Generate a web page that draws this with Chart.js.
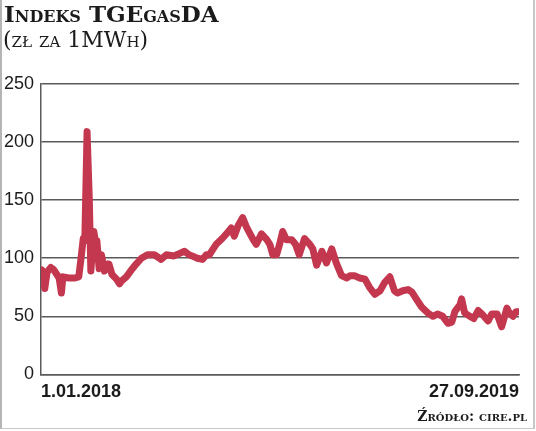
<!DOCTYPE html>
<html>
<head>
<meta charset="utf-8">
<script src="https://cdn.jsdelivr.net/npm/chart.js@4.4.1/dist/chart.umd.min.js"></script>
<style>
  html, body { margin: 0; padding: 0; background: #fff; }
  #wrap { position: relative; width: 536px; height: 431px; overflow: hidden; }
  #frame { position: absolute; left: 0; top: 0; width: 531px; height: 428px;
           border-left: 2px solid #b5b5b5; border-right: 2px solid #c8c8c8; border-bottom: 1px solid #c8c8c8; }
  #tytul { position: absolute; left: 4px; top: 0px; font: bold 23px "DejaVu Serif", serif;
           font-variant: small-caps; color: #1b1b1b; line-height: 28px; white-space: nowrap; }
  #podtytul { position: absolute; left: 3px; top: 26px; font: 22px "DejaVu Serif", serif;
              font-variant: small-caps; color: #1b1b1b; line-height: 28px; white-space: nowrap; }
  #zrodlo { position: absolute; right: 9px; top: 406px; font: bold 14px "DejaVu Serif", serif;
            font-variant: small-caps; color: #1b1b1b; line-height: 20px; white-space: nowrap; }
  canvas { position: absolute; left: 0; top: 0; }
</style>
</head>
<body>
<div id="wrap">
  <canvas id="wykres" width="536" height="431"></canvas>
  <div id="frame"></div>
  <div id="tytul">Indeks TGEgasDA</div>
  <div id="podtytul">(zł za 1MWh)</div>
  <div id="zrodlo">Źródło: cire.pl</div>
</div>
<script>
// Indeks TGEgasDA, zł za 1 MWh, od 1.01.2018 do 27.09.2019
// dni liczone od 1.01.2018
const dni = [0, 1, 4, 5, 8, 13, 17, 21, 24, 27, 29, 37, 45, 50, 53, 56, 58, 61, 64, 66,
  70, 73, 74, 77, 80, 84, 88, 90, 94, 100, 104, 106, 113, 121, 126, 133, 141, 150, 157, 159,
  166, 176, 183, 190, 196, 200, 207, 214, 219, 223, 228, 232, 240, 247, 252, 256, 261, 267, 272, 276,
  281, 285, 292, 299, 303, 307, 312, 316, 320, 325, 332, 337, 342, 349, 356, 360, 365, 372, 378, 385,
  391, 398, 405, 409, 415, 422, 429, 435, 442, 449, 455, 462, 468, 472, 479, 486, 491, 498, 504, 512,
  519, 525, 532, 539, 544, 548, 555, 557, 561, 568, 573, 579, 584, 588, 592, 597, 604, 610, 614, 617,
  621, 625, 629, 633];
const ceny = [78, 90, 88, 74, 88, 92, 90, 86, 83, 70, 84, 83, 83, 84, 100, 117, 115, 209, 150, 89,
  123, 110, 115, 91, 103, 89, 95, 95, 86, 82, 78, 80, 84, 91, 95, 100, 103, 103, 100, 99,
  103, 102, 104, 106, 103, 102, 100, 99, 103, 103, 108, 112, 117, 122, 126, 119, 128, 135, 127, 122,
  116, 112, 121, 116, 112, 103, 103, 112, 123, 116, 116, 112, 103, 117, 112, 108, 94, 106, 96, 108,
  96, 85, 83, 85, 85, 83, 82, 75, 69, 72, 79, 84, 72, 70, 72, 73, 71, 64, 58, 53,
  50, 52, 50, 44, 45, 54, 60, 65, 53, 50, 48, 55, 52, 49, 46, 52, 52, 41, 50, 57,
  52, 50, 54, 54];
const etykietyX = ['1.01.2018', '27.09.2019'];
const tickiY = [0, 50, 100, 150, 200, 250];

const punkty = dni.map((d, i) => ({ x: d, y: ceny[i] }));

const ctx = document.getElementById('wykres').getContext('2d');
new Chart(ctx, {
  type: 'line',
  data: {
    datasets: [{
      label: 'TGEgasDA',
      data: punkty,
      borderColor: '#c4384f',
      borderWidth: 7,
      pointRadius: 0,
      tension: 0,
      borderJoinStyle: 'round',
      borderCapStyle: 'round'
    }]
  },
  options: {
    responsive: false,
    animation: false,
    layout: { padding: { top: 84, right: 17, bottom: 29, left: 0 } },
    plugins: {
      legend: { display: false },
      tooltip: { enabled: false }
    },
    scales: {
      x: {
        type: 'linear',
        min: 0,
        max: dni[dni.length - 1],
        afterBuildTicks: (axis) => {
          axis.ticks = [{ value: dni[0] }, { value: dni[dni.length - 1] }];
        },
        ticks: {
          autoSkip: false,
          maxRotation: 0,
          align: 'inner',
          padding: -1,
          color: '#1b1b1b',
          font: { family: 'Liberation Sans', size: 18, weight: 'bold' },
          callback: (v) => (v === dni[0] ? etykietyX[0] : etykietyX[1])
        },
        grid: { display: false },
        border: { display: true, color: '#5a5a5a', width: 1.5 }
      },
      y: {
        min: 0,
        max: 250,
        afterBuildTicks: (axis) => {
          axis.ticks = tickiY.map(v => ({ value: v }));
        },
        afterFit: (axis) => { axis.width = 41; },
        ticks: {
          padding: 7,
          color: '#1b1b1b',
          font: { family: 'Liberation Sans', size: 18 }
        },
        grid: { color: '#5a5a5a', lineWidth: 1.5, drawTicks: false },
        border: { display: true, color: '#5a5a5a', width: 1.5 }
      }
    }
  }
});
</script>
</body>
</html>
